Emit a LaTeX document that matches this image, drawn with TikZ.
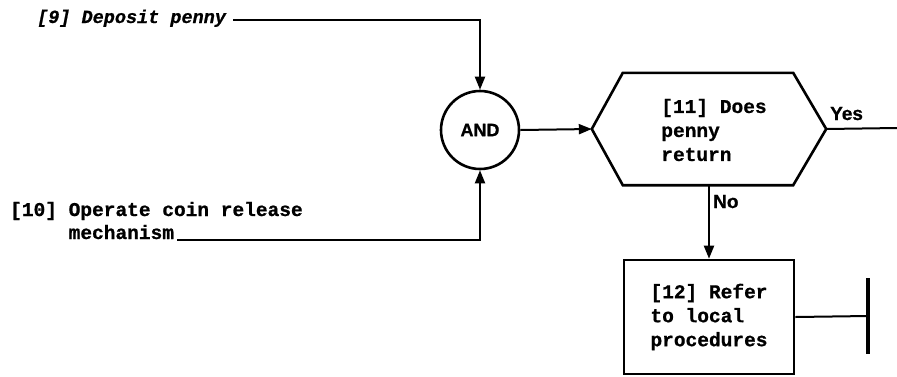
\documentclass[tikz,border=0pt]{standalone}
\usepackage{fontspec}
\setmainfont[BoldFeatures={FakeBold=0.8}]{Liberation Sans}
\newfontfamily\monof[BoldFeatures={FakeBold=0.8},BoldItalicFeatures={FakeBold=0.8}]{Liberation Mono}
\usetikzlibrary{arrows.meta,calc}
\begin{document}
\begin{tikzpicture}[x=1pt,y=-1pt,
  lab/.style={font=\monof\bfseries\fontsize{19.5}{24}\selectfont, inner sep=0pt, align=left},
  itlab/.style={font=\monof\bfseries\itshape\fontsize{18.5}{24}\selectfont, inner sep=0pt},
  conn/.style={line width=2pt},
  arr/.style={conn,-{Triangle[length=13pt,width=10pt]}},
  outline/.style={line width=2.6pt, line join=miter},
  andc/.style={circle, draw, line width=2.6pt, minimum size=78pt, inner sep=0pt,
    font=\bfseries\fontsize{18}{20}\selectfont},
  yesno/.style={inner sep=0pt, font=\bfseries\fontsize{19}{22}\selectfont},
  box12/.style={rectangle, draw, line width=2.6pt, minimum width=170pt, minimum height=114pt,
    inner sep=0pt, align=left, font=\monof\bfseries\fontsize{19.5}{24}\selectfont},
  barline/.style={line width=4.5pt}
]
\useasboundingbox (0,0) rectangle (897,376);

% inputs
\node[itlab, anchor=base west] (t9) at (37,23) {[9] Deposit penny};
\node[lab, anchor=base west] (t10) at (10,216) {[10] Operate coin release};
\node[lab, anchor=base west] (t10b) at (10,239) {\phantom{[10] }mechanism};

% AND gate
\node[andc] (and) at (480,130) {AND};

\draw[arr] ([xshift=7pt,yshift=3pt]t9.base east) -| (and.north);
\draw[arr] ([xshift=3pt,yshift=-1pt]t10b.base east) -| (and.south);

% decision hexagon
\node[minimum width=234pt, minimum height=112pt, inner sep=0pt] (q11) at (709,129) {};
\draw[outline] (q11.west) -- ([xshift=31pt]q11.north west) -- ([xshift=-33pt]q11.north east)
  -- (q11.east) -- ([xshift=-33pt]q11.south east) -- ([xshift=31pt]q11.south west) -- cycle;
\node[lab] (q11t) at (714,130) {[11] Does\\penny\\return};

\draw[arr] (and.east) -- (q11.west);

% Yes branch
\node[yesno, anchor=base west] (yes) at (830,120) {Yes};
\coordinate (yesend) at (897,128);
\draw[conn] (q11.east) -- (yesend);

% No branch
\node[box12] (b12) at (709,317) {[12] Refer\\to local\\procedures};
\draw[arr] (q11.south) -- (b12.north);
\node[yesno, anchor=base west] (no) at (713,208) {No};

% terminator
\coordinate (bar) at (868,316);
\draw[conn] (b12.east) -- (bar);
\draw[barline] ([yshift=38pt]bar) -- ([yshift=-38pt]bar);
\end{tikzpicture}
\end{document}
